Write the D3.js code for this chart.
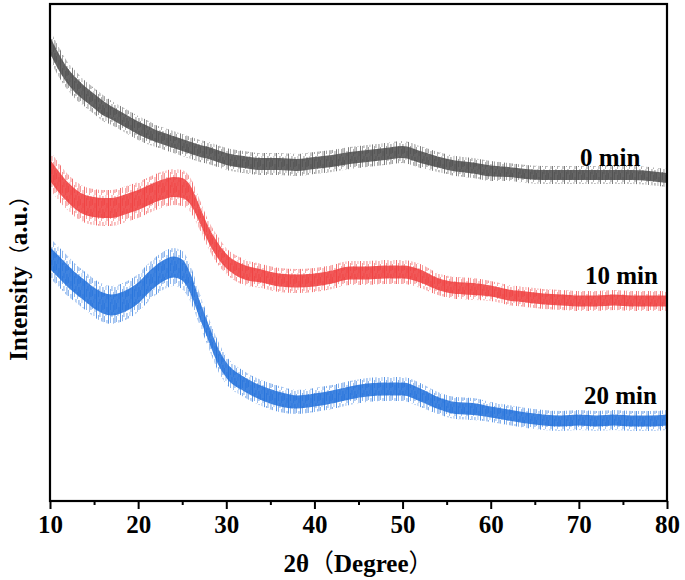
<!DOCTYPE html>
<html>
<head>
<meta charset="utf-8">
<script src="https://cdn.jsdelivr.net/npm/d3@7"></script>
<style>
  html, body { margin: 0; padding: 0; background: #fff; }
  svg { display: block; }
  text { font-family: "Liberation Serif", "Times New Roman", serif; font-weight: bold; fill: #000; }
  .cjk { font-family: "Noto Sans CJK SC", "Noto Sans CJK JP", sans-serif; font-weight: normal; }
</style>
</head>
<body>
<svg id="chart" width="685" height="580"></svg>
<script>
// 2θ positions (degrees)
const twoTheta = [10,11,12,13,14,15,16,17,18,19,20,21,22,23,24,25,26,27,28,29,30,
  32,34,36,38,40,42,44,46,48,50,52,54,56,58,60,62,64,66,68,70,72,74,76,78,80];

// Intensity (a.u., offset-stacked), read as band centre
const min0 = [456,439,425,415,407,400,393,388,383,378,373,369,365,362,359,356,353,350,348,345,342,
  339,337,337,336,338,340,343,345,347,349,344,339,335,333,330,329,327,326,326,326,326,326,326,325,323];
const min10 = [331,319,309,301,296,294,293,293,295,298,301,305,309,312,314,313,305,286,266,251,240,
  229,225,221,220,221,224,228,228,229,229,225,217,213,212,210,206,204,202,201,200,200,201,200,200,200];
const min20 = [243,234,225,217,210,203,198,196,198,202,208,217,225,231,234,231,216,191,168,146,131,
  117,108,102,99,101,104,108,111,112,112,106,98,93,92,89,86,83,81,80,81,80,81,80,80,81];

// Noise half-width of each trace (a.u.)
const noise0 = [15,15,14,14,13,13,13,12,12,12,12,12,11,11,11,11,11,11,11,11,11,
  11,11,11,11,11,11,11,11,11,11,11,10,10,10,10,9,9,9,9,9,9,9,9,9,9];
const noise10 = [19,19,18,18,18,18,18,18,18,18,18,18,18,18,18,18,17,15,14,14,13,
  13,12,12,12,12,12,12,12,12,12,12,11,11,11,10,10,10,10,10,10,10,10,10,10,10];
const noise20 = [20,20,20,19,19,19,19,19,19,19,19,19,19,19,19,19,18,16,15,15,14,
  13,13,13,12,12,12,12,12,12,12,12,11,11,11,10,10,10,10,10,10,10,10,10,10,10];

const seriesNames = ["0 min", "10 min", "20 min"];
const xTicks = [10,20,30,40,50,60,70,80];
const xMinorTicks = [15,25,35,45,55,65,75];

const series = [
  {name: seriesNames[0], values: min0, noise: noise0, color: "#4a4a4a", label: {x: 580, y: 166}},
  {name: seriesNames[1], values: min10, noise: noise10, color: "#ef3b3b", label: {x: 585, y: 284}},
  {name: seriesNames[2], values: min20, noise: noise20, color: "#1f6fdb", label: {x: 584, y: 404}}
];

const svg = d3.select("#chart");
const M = {left: 50, right: 667, top: 4, bottom: 501};

const x = d3.scaleLinear().domain([10, 80]).range([M.left, M.right]);
const y = d3.scaleLinear().domain([0, 497]).range([M.bottom, M.top]);

// texture of thin vertical strokes (style only) to mimic the noisy trace edge
const hatchStrokes = [[0,0,13,1],[2,3,8,0.7],[3.5,0,5,0.8],[5,6,7,0.6],[6.5,1,10,0.9],[8,4,6,0.7],[9.5,0,4,0.6],[10.5,8,5,0.8]];
const defs = svg.append("defs");
series.forEach((s, i) => {
  const p = defs.append("pattern")
    .attr("id", "hatch" + i)
    .attr("patternUnits", "userSpaceOnUse")
    .attr("width", 12).attr("height", 13);
  hatchStrokes.forEach(h => {
    p.append("rect").attr("x", h[0]).attr("y", h[1]).attr("width", 0.9).attr("height", h[2])
      .attr("fill", s.color).attr("opacity", h[3]);
  });
});

const clip = defs.append("clipPath").attr("id", "plotclip");
clip.append("rect").attr("x", M.left).attr("y", M.top).attr("width", M.right - M.left).attr("height", M.bottom - M.top);

const g = svg.append("g").attr("clip-path", "url(#plotclip)");

series.forEach((s, i) => {
  const pts = twoTheta.map((t, k) => ({t, v: s.values[k], n: s.noise[k]}));
  const outer = d3.area()
    .x(d => x(d.t))
    .y0(d => y(d.v - d.n))
    .y1(d => y(d.v + d.n))
    .curve(d3.curveMonotoneX);
  const inner = d3.area()
    .x(d => x(d.t))
    .y0(d => y(d.v - d.n * 0.55))
    .y1(d => y(d.v + d.n * 0.55))
    .curve(d3.curveMonotoneX);
  g.append("path").datum(pts).attr("d", outer).attr("fill", "url(#hatch" + i + ")").attr("opacity", 0.8);
  g.append("path").datum(pts).attr("d", inner).attr("fill", s.color).attr("opacity", 0.85);
});

// labels
series.forEach(s => {
  svg.append("text").attr("x", s.label.x).attr("y", s.label.y)
    .attr("font-size", 25).text(s.name);
});

// frame
svg.append("rect").attr("x", M.left).attr("y", M.top).attr("width", M.right - M.left).attr("height", M.bottom - M.top)
  .attr("fill", "none").attr("stroke", "#000").attr("stroke-width", 2.2);

// bottom axis
const axis = d3.axisBottom(x).tickValues(xTicks).tickSize(8).tickPadding(6).tickFormat(d3.format("d"));
const ax = svg.append("g").attr("transform", `translate(0,${M.bottom})`).call(axis);
ax.select(".domain").remove();
ax.selectAll(".tick line").attr("stroke", "#000").attr("stroke-width", 2);
ax.selectAll(".tick text").attr("font-size", 25).attr("fill", "#000");
const minor = d3.axisBottom(x).tickValues(xMinorTicks).tickSize(4).tickFormat("");
const mx = svg.append("g").attr("transform", `translate(0,${M.bottom})`).call(minor);
mx.select(".domain").remove();
mx.selectAll(".tick line").attr("stroke", "#000").attr("stroke-width", 2);

// axis titles
function title(sel, parts, cjkSize) {
  parts.forEach(p => {
    const t = sel.append("tspan").text(p[0]);
    if (p[1]) t.attr("class", "cjk").attr("font-size", cjkSize);
  });
}
const xt = svg.append("text").attr("x", (M.left + M.right) / 2).attr("y", 572).attr("text-anchor", "middle")
  .attr("font-size", 25);
title(xt, [["2θ", false], ["（", true], ["Degree", false], ["）", true]], 25);
const yt = svg.append("text").attr("transform", "translate(27,273) rotate(-90)").attr("text-anchor", "middle")
  .attr("font-size", 25);
title(yt, [["Intensity", false], ["（", true], ["a.u.", false], ["）", true]], 21);
</script>
</body>
</html>
